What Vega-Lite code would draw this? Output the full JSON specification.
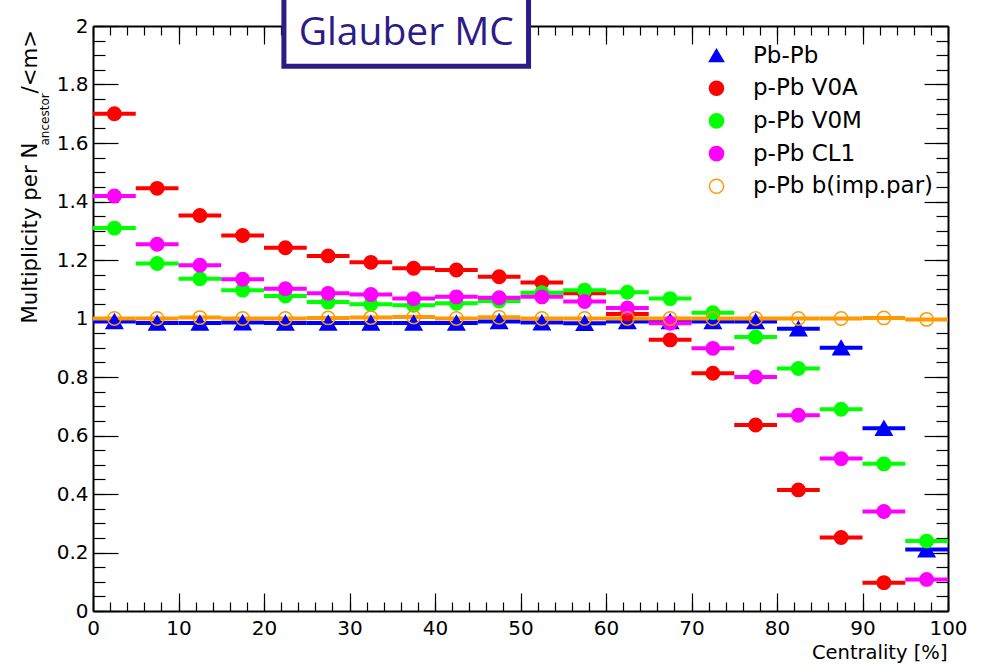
{
  "$schema": "https://vega.github.io/schema/vega-lite/v6.json",
  "width": 855,
  "height": 585,
  "autosize": {"type": "none"},
  "padding": {"left": 93, "top": 26, "right": 36, "bottom": 56},
  "background": "white",
  "config": {
    "view": {"stroke": null},
    "axis": {
      "grid": false,
      "domainColor": "black",
      "domainWidth": 2,
      "tickColor": "black",
      "tickWidth": 1.2,
      "labelFont": "DejaVu Sans",
      "titleFont": "DejaVu Sans",
      "labelColor": "black",
      "titleColor": "black",
      "titleFontWeight": "normal",
      "labelOverlap": false,
      "labelFlush": false,
      "labelBound": false
    },
    "legend": {
      "labelFont": "DejaVu Sans", "labelFontSize": 23, "labelColor": "black", "labelLimit": 400,
      "symbolSize": 200, "symbolStrokeWidth": 1.5, "rowPadding": 8.7, "labelOffset": 25, "padding": 0
    }
  },
  "datasets": {
    "pts": [
      {"s": "Pb-Pb", "c": 2.5, "lo": 0, "hi": 5, "v": 0.99},
      {"s": "Pb-Pb", "c": 7.5, "lo": 5, "hi": 10, "v": 0.985},
      {"s": "Pb-Pb", "c": 12.5, "lo": 10, "hi": 15, "v": 0.985},
      {"s": "Pb-Pb", "c": 17.5, "lo": 15, "hi": 20, "v": 0.986},
      {"s": "Pb-Pb", "c": 22.5, "lo": 20, "hi": 25, "v": 0.985},
      {"s": "Pb-Pb", "c": 27.5, "lo": 25, "hi": 30, "v": 0.985},
      {"s": "Pb-Pb", "c": 32.5, "lo": 30, "hi": 35, "v": 0.985},
      {"s": "Pb-Pb", "c": 37.5, "lo": 35, "hi": 40, "v": 0.985},
      {"s": "Pb-Pb", "c": 42.5, "lo": 40, "hi": 45, "v": 0.985},
      {"s": "Pb-Pb", "c": 47.5, "lo": 45, "hi": 50, "v": 0.99},
      {"s": "Pb-Pb", "c": 52.5, "lo": 50, "hi": 55, "v": 0.986},
      {"s": "Pb-Pb", "c": 57.5, "lo": 55, "hi": 60, "v": 0.984},
      {"s": "Pb-Pb", "c": 62.5, "lo": 60, "hi": 65, "v": 0.99},
      {"s": "Pb-Pb", "c": 67.5, "lo": 65, "hi": 70, "v": 0.99},
      {"s": "Pb-Pb", "c": 72.5, "lo": 70, "hi": 75, "v": 0.99},
      {"s": "Pb-Pb", "c": 77.5, "lo": 75, "hi": 80, "v": 0.99},
      {"s": "Pb-Pb", "c": 82.5, "lo": 80, "hi": 85, "v": 0.965},
      {"s": "Pb-Pb", "c": 87.5, "lo": 85, "hi": 90, "v": 0.9},
      {"s": "Pb-Pb", "c": 92.5, "lo": 90, "hi": 95, "v": 0.625},
      {"s": "Pb-Pb", "c": 97.5, "lo": 95, "hi": 100, "v": 0.21},
      {"s": "p-Pb V0A", "c": 2.5, "lo": 0, "hi": 5, "v": 1.7},
      {"s": "p-Pb V0A", "c": 7.5, "lo": 5, "hi": 10, "v": 1.445},
      {"s": "p-Pb V0A", "c": 12.5, "lo": 10, "hi": 15, "v": 1.352},
      {"s": "p-Pb V0A", "c": 17.5, "lo": 15, "hi": 20, "v": 1.284},
      {"s": "p-Pb V0A", "c": 22.5, "lo": 20, "hi": 25, "v": 1.242},
      {"s": "p-Pb V0A", "c": 27.5, "lo": 25, "hi": 30, "v": 1.214},
      {"s": "p-Pb V0A", "c": 32.5, "lo": 30, "hi": 35, "v": 1.192},
      {"s": "p-Pb V0A", "c": 37.5, "lo": 35, "hi": 40, "v": 1.172},
      {"s": "p-Pb V0A", "c": 42.5, "lo": 40, "hi": 45, "v": 1.166},
      {"s": "p-Pb V0A", "c": 47.5, "lo": 45, "hi": 50, "v": 1.143},
      {"s": "p-Pb V0A", "c": 52.5, "lo": 50, "hi": 55, "v": 1.123},
      {"s": "p-Pb V0A", "c": 57.5, "lo": 55, "hi": 60, "v": 1.086},
      {"s": "p-Pb V0A", "c": 62.5, "lo": 60, "hi": 65, "v": 1.015},
      {"s": "p-Pb V0A", "c": 67.5, "lo": 65, "hi": 70, "v": 0.927},
      {"s": "p-Pb V0A", "c": 72.5, "lo": 70, "hi": 75, "v": 0.813},
      {"s": "p-Pb V0A", "c": 77.5, "lo": 75, "hi": 80, "v": 0.636},
      {"s": "p-Pb V0A", "c": 82.5, "lo": 80, "hi": 85, "v": 0.414},
      {"s": "p-Pb V0A", "c": 87.5, "lo": 85, "hi": 90, "v": 0.251},
      {"s": "p-Pb V0A", "c": 92.5, "lo": 90, "hi": 95, "v": 0.097},
      {"s": "p-Pb V0M", "c": 2.5, "lo": 0, "hi": 5, "v": 1.309},
      {"s": "p-Pb V0M", "c": 7.5, "lo": 5, "hi": 10, "v": 1.188},
      {"s": "p-Pb V0M", "c": 12.5, "lo": 10, "hi": 15, "v": 1.136},
      {"s": "p-Pb V0M", "c": 17.5, "lo": 15, "hi": 20, "v": 1.097},
      {"s": "p-Pb V0M", "c": 22.5, "lo": 20, "hi": 25, "v": 1.077},
      {"s": "p-Pb V0M", "c": 27.5, "lo": 25, "hi": 30, "v": 1.056},
      {"s": "p-Pb V0M", "c": 32.5, "lo": 30, "hi": 35, "v": 1.049},
      {"s": "p-Pb V0M", "c": 37.5, "lo": 35, "hi": 40, "v": 1.045},
      {"s": "p-Pb V0M", "c": 42.5, "lo": 40, "hi": 45, "v": 1.052},
      {"s": "p-Pb V0M", "c": 47.5, "lo": 45, "hi": 50, "v": 1.06},
      {"s": "p-Pb V0M", "c": 52.5, "lo": 50, "hi": 55, "v": 1.088},
      {"s": "p-Pb V0M", "c": 57.5, "lo": 55, "hi": 60, "v": 1.097},
      {"s": "p-Pb V0M", "c": 62.5, "lo": 60, "hi": 65, "v": 1.09},
      {"s": "p-Pb V0M", "c": 67.5, "lo": 65, "hi": 70, "v": 1.068},
      {"s": "p-Pb V0M", "c": 72.5, "lo": 70, "hi": 75, "v": 1.02},
      {"s": "p-Pb V0M", "c": 77.5, "lo": 75, "hi": 80, "v": 0.937},
      {"s": "p-Pb V0M", "c": 82.5, "lo": 80, "hi": 85, "v": 0.829},
      {"s": "p-Pb V0M", "c": 87.5, "lo": 85, "hi": 90, "v": 0.69},
      {"s": "p-Pb V0M", "c": 92.5, "lo": 90, "hi": 95, "v": 0.503},
      {"s": "p-Pb V0M", "c": 97.5, "lo": 95, "hi": 100, "v": 0.239},
      {"s": "p-Pb CL1", "c": 2.5, "lo": 0, "hi": 5, "v": 1.419},
      {"s": "p-Pb CL1", "c": 7.5, "lo": 5, "hi": 10, "v": 1.254},
      {"s": "p-Pb CL1", "c": 12.5, "lo": 10, "hi": 15, "v": 1.182},
      {"s": "p-Pb CL1", "c": 17.5, "lo": 15, "hi": 20, "v": 1.134},
      {"s": "p-Pb CL1", "c": 22.5, "lo": 20, "hi": 25, "v": 1.102},
      {"s": "p-Pb CL1", "c": 27.5, "lo": 25, "hi": 30, "v": 1.086},
      {"s": "p-Pb CL1", "c": 32.5, "lo": 30, "hi": 35, "v": 1.082},
      {"s": "p-Pb CL1", "c": 37.5, "lo": 35, "hi": 40, "v": 1.068},
      {"s": "p-Pb CL1", "c": 42.5, "lo": 40, "hi": 45, "v": 1.074},
      {"s": "p-Pb CL1", "c": 47.5, "lo": 45, "hi": 50, "v": 1.071},
      {"s": "p-Pb CL1", "c": 52.5, "lo": 50, "hi": 55, "v": 1.074},
      {"s": "p-Pb CL1", "c": 57.5, "lo": 55, "hi": 60, "v": 1.058},
      {"s": "p-Pb CL1", "c": 62.5, "lo": 60, "hi": 65, "v": 1.036},
      {"s": "p-Pb CL1", "c": 67.5, "lo": 65, "hi": 70, "v": 0.984},
      {"s": "p-Pb CL1", "c": 72.5, "lo": 70, "hi": 75, "v": 0.898},
      {"s": "p-Pb CL1", "c": 77.5, "lo": 75, "hi": 80, "v": 0.8},
      {"s": "p-Pb CL1", "c": 82.5, "lo": 80, "hi": 85, "v": 0.669},
      {"s": "p-Pb CL1", "c": 87.5, "lo": 85, "hi": 90, "v": 0.521},
      {"s": "p-Pb CL1", "c": 92.5, "lo": 90, "hi": 95, "v": 0.34},
      {"s": "p-Pb CL1", "c": 97.5, "lo": 95, "hi": 100, "v": 0.108},
      {"s": "p-Pb b(imp.par)", "c": 2.5, "lo": 0, "hi": 5, "v": 1.0},
      {"s": "p-Pb b(imp.par)", "c": 7.5, "lo": 5, "hi": 10, "v": 1.0},
      {"s": "p-Pb b(imp.par)", "c": 12.5, "lo": 10, "hi": 15, "v": 1.003},
      {"s": "p-Pb b(imp.par)", "c": 17.5, "lo": 15, "hi": 20, "v": 1.0},
      {"s": "p-Pb b(imp.par)", "c": 22.5, "lo": 20, "hi": 25, "v": 1.0},
      {"s": "p-Pb b(imp.par)", "c": 27.5, "lo": 25, "hi": 30, "v": 1.002},
      {"s": "p-Pb b(imp.par)", "c": 32.5, "lo": 30, "hi": 35, "v": 1.003},
      {"s": "p-Pb b(imp.par)", "c": 37.5, "lo": 35, "hi": 40, "v": 1.005},
      {"s": "p-Pb b(imp.par)", "c": 42.5, "lo": 40, "hi": 45, "v": 1.0},
      {"s": "p-Pb b(imp.par)", "c": 47.5, "lo": 45, "hi": 50, "v": 1.004},
      {"s": "p-Pb b(imp.par)", "c": 52.5, "lo": 50, "hi": 55, "v": 1.0},
      {"s": "p-Pb b(imp.par)", "c": 57.5, "lo": 55, "hi": 60, "v": 1.0},
      {"s": "p-Pb b(imp.par)", "c": 62.5, "lo": 60, "hi": 65, "v": 1.0},
      {"s": "p-Pb b(imp.par)", "c": 67.5, "lo": 65, "hi": 70, "v": 1.0},
      {"s": "p-Pb b(imp.par)", "c": 72.5, "lo": 70, "hi": 75, "v": 1.0},
      {"s": "p-Pb b(imp.par)", "c": 77.5, "lo": 75, "hi": 80, "v": 1.0},
      {"s": "p-Pb b(imp.par)", "c": 82.5, "lo": 80, "hi": 85, "v": 1.0},
      {"s": "p-Pb b(imp.par)", "c": 87.5, "lo": 85, "hi": 90, "v": 1.0},
      {"s": "p-Pb b(imp.par)", "c": 92.5, "lo": 90, "hi": 95, "v": 1.002},
      {"s": "p-Pb b(imp.par)", "c": 97.5, "lo": 95, "hi": 100, "v": 0.997}
    ],
    "box": [{"x": 22.33, "x2": 50.94, "y": 1.8626, "y2": 2.2}],
    "lbl": [{"x": 36.64, "y": 1.935, "t": "Glauber MC"}]
  },
  "resolve": {"axis": {"x": "independent", "y": "independent"}},
  "layer": [
    {
      "data": {"name": "pts"},
      "mark": {"type": "rule", "strokeWidth": 4},
      "encoding": {
        "x": {
          "field": "lo", "type": "quantitative",
          "scale": {"domain": [0, 100], "nice": false, "zero": false},
          "axis": {
            "orient": "bottom",
            "values": [0, 10, 20, 30, 40, 50, 60, 70, 80, 90, 100],
            "tickSize": -18, "labelFontSize": 20, "labelPadding": 25,
            "labelExpr": "format(datum.value, 'd')",
            "title": "Centrality [%]", "titleFontSize": 19.5, "titleAlign": "right",
            "titleBaseline": "alphabetic", "titleX": 854, "titleY": 47
          }
        },
        "x2": {"field": "hi"},
        "y": {
          "field": "v", "type": "quantitative",
          "scale": {"domain": [0, 2], "nice": false, "zero": false},
          "axis": {
            "orient": "left",
            "values": [0, 0.2, 0.4, 0.6, 0.8, 1, 1.2, 1.4, 1.6, 1.8, 2],
            "tickSize": -25, "labelFontSize": 20, "labelPadding": 30,
            "labelExpr": "format(datum.value, '~g')",
            "title": "Multiplicity per N", "titleFontSize": 21.3, "titleAngle": 270,
            "titleAlign": "left", "titleBaseline": "alphabetic", "titleX": -57, "titleY": 297
          }
        },
        "color": {
          "field": "s", "type": "nominal",
          "scale": {
            "domain": ["p-Pb b(imp.par)", "p-Pb CL1", "p-Pb V0M", "p-Pb V0A", "Pb-Pb"],
            "range": ["#ff9900", "#ff00ff", "#00ff00", "#ff0000", "#0000ff"]
          },
          "legend": null
        }
      }
    },
    {
      "data": {"name": "pts"},
      "mark": {"type": "point", "opacity": 1, "strokeWidth": 1.5},
      "encoding": {
        "x": {
          "field": "c", "type": "quantitative",
          "scale": {"domain": [0, 100], "nice": false, "zero": false},
          "axis": {
            "orient": "bottom",
            "values": [0,2,4,6,8,10,12,14,16,18,20,22,24,26,28,30,32,34,36,38,40,42,44,46,48,50,52,54,56,58,60,62,64,66,68,70,72,74,76,78,80,82,84,86,88,90,92,94,96,98,100],
            "tickSize": -9, "labels": false, "domain": false, "title": null
          }
        },
        "y": {
          "field": "v", "type": "quantitative",
          "scale": {"domain": [0, 2], "nice": false, "zero": false},
          "axis": {
            "orient": "left",
            "values": [0,0.05,0.1,0.15,0.2,0.25,0.3,0.35,0.4,0.45,0.5,0.55,0.6,0.65,0.7,0.75,0.8,0.85,0.9,0.95,1,1.05,1.1,1.15,1.2,1.25,1.3,1.35,1.4,1.45,1.5,1.55,1.6,1.65,1.7,1.75,1.8,1.85,1.9,1.95,2],
            "tickSize": -12, "labels": false, "domain": false,
            "title": "ancestor", "titleFontSize": 12, "titleAngle": 270,
            "titleAlign": "left", "titleBaseline": "alphabetic", "titleX": -45, "titleY": 119
          }
        },
        "shape": {
          "field": "s", "type": "nominal",
          "scale": {
            "domain": ["Pb-Pb", "p-Pb V0A", "p-Pb V0M", "p-Pb CL1", "p-Pb b(imp.par)"],
            "range": ["triangle-up", "circle", "circle", "circle", "circle"]
          },
          "legend": {"orient": "none", "legendX": 612, "legendY": 18, "title": null}
        },
        "fill": {
          "field": "s", "type": "nominal",
          "scale": {
            "domain": ["Pb-Pb", "p-Pb V0A", "p-Pb V0M", "p-Pb CL1", "p-Pb b(imp.par)"],
            "range": ["#0000ff", "#ff0000", "#00ff00", "#ff00ff", "transparent"]
          },
          "legend": {"orient": "none", "legendX": 612, "legendY": 18, "title": null}
        },
        "stroke": {
          "field": "s", "type": "nominal",
          "scale": {
            "domain": ["Pb-Pb", "p-Pb V0A", "p-Pb V0M", "p-Pb CL1", "p-Pb b(imp.par)"],
            "range": ["#0000ff", "#ff0000", "#00ff00", "#ff00ff", "#ff9900"]
          },
          "legend": {"orient": "none", "legendX": 612, "legendY": 18, "title": null}
        },
        "size": {"condition": {"test": "datum.s === 'Pb-Pb'", "value": 270}, "value": 180}
      }
    },
    {
      "data": {"name": "box"},
      "mark": {"type": "rect", "fill": "white", "stroke": "#2d1b88", "strokeWidth": 5},
      "encoding": {
        "x": {
          "field": "x", "type": "quantitative",
          "scale": {"domain": [0, 100], "nice": false, "zero": false},
          "axis": {
            "orient": "top",
            "values": [0, 10, 20, 30, 40, 50, 60, 70, 80, 90, 100],
            "tickSize": -18, "labels": false, "domain": true, "title": null
          }
        },
        "x2": {"field": "x2"},
        "y": {
          "field": "y", "type": "quantitative",
          "scale": {"domain": [0, 2], "nice": false, "zero": false},
          "axis": {
            "orient": "right",
            "values": [0, 0.2, 0.4, 0.6, 0.8, 1, 1.2, 1.4, 1.6, 1.8, 2],
            "tickSize": -24, "labels": false, "domain": true,
            "title": "/<m>", "titleFontSize": 21.3, "titleAngle": 270,
            "titleAlign": "left", "titleBaseline": "alphabetic", "titleX": -912, "titleY": 67
          }
        },
        "y2": {"field": "y2"}
      }
    },
    {
      "data": {"name": "lbl"},
      "mark": {"type": "text", "font": "Open Sans", "fontSize": 39, "color": "#2d1b88", "align": "center", "baseline": "alphabetic"},
      "encoding": {
        "x": {
          "field": "x", "type": "quantitative",
          "scale": {"domain": [0, 100], "nice": false, "zero": false},
          "axis": {
            "orient": "top",
            "values": [0,2,4,6,8,10,12,14,16,18,20,22,24,26,28,30,32,34,36,38,40,42,44,46,48,50,52,54,56,58,60,62,64,66,68,70,72,74,76,78,80,82,84,86,88,90,92,94,96,98,100],
            "tickSize": -9, "labels": false, "domain": false, "title": null
          }
        },
        "y": {
          "field": "y", "type": "quantitative",
          "scale": {"domain": [0, 2], "nice": false, "zero": false},
          "axis": {
            "orient": "right",
            "values": [0,0.05,0.1,0.15,0.2,0.25,0.3,0.35,0.4,0.45,0.5,0.55,0.6,0.65,0.7,0.75,0.8,0.85,0.9,0.95,1,1.05,1.1,1.15,1.2,1.25,1.3,1.35,1.4,1.45,1.5,1.55,1.6,1.65,1.7,1.75,1.8,1.85,1.9,1.95,2],
            "tickSize": -12, "labels": false, "domain": false, "title": null
          }
        },
        "text": {"field": "t"}
      }
    }
  ]
}
